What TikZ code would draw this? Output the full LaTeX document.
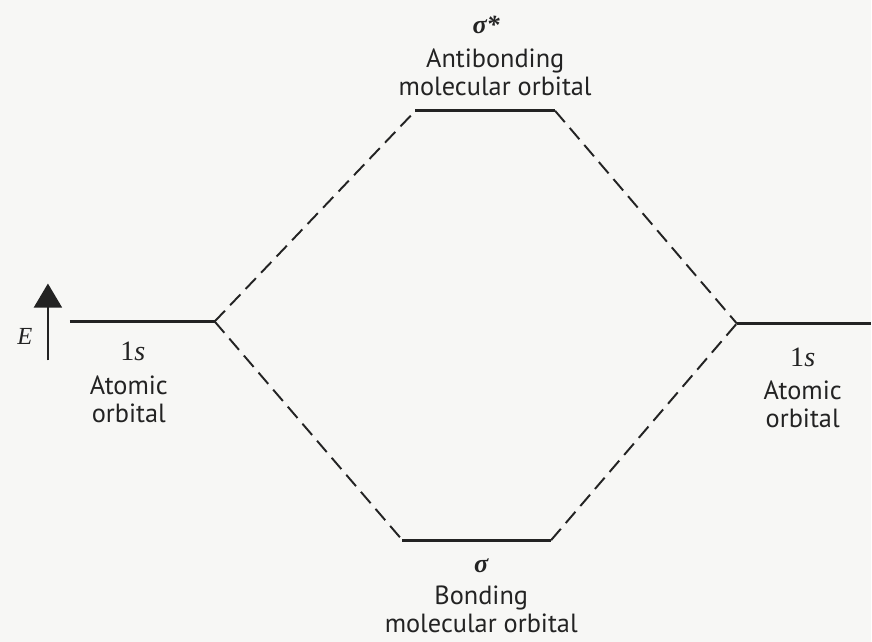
\documentclass[tikz,border=0pt]{standalone}
\usepackage{fontspec}
\setmainfont{PT Sans}
\newfontfamily\symfont{Liberation Serif}
\usetikzlibrary{arrows.meta}
\definecolor{paper}{RGB}{247,247,245}
\definecolor{ink}{RGB}{35,35,35}
\tikzset{
    orbline/.style = {draw=ink, line width=1.6pt},
    mixline/.style = {draw=ink, line width=1.1pt, dash pattern=on 8.5pt off 4.3pt},
    lbl/.style = {text=ink, align=center, inner sep=0pt,
        font=\fontsize{15}{16}\selectfont},
    sym/.style = {text=ink, inner sep=0pt, font=\fontsize{#1}{#1}\symfont\itshape},
    sym/.default = 15,
    boldsym/.style = {text=ink, inner sep=0pt, font=\fontsize{15}{15}\symfont\bfseries\itshape}
}
\begin{document}
\begin{tikzpicture}[x=0.02cm, y=-0.02cm]
            \fill [paper] (0,0) rectangle (872,643);
            \coordinate (aoL1) at (70,322);
            \coordinate (aoL2) at (215,322);
            \coordinate (aoR1) at (738,324);
            \coordinate (aoR2) at (872,324);
            \coordinate (anti1) at (416,111);
            \coordinate (anti2) at (556,111);
            \coordinate (bond1) at (403,541);
            \coordinate (bond2) at (552,541);
            \coordinate (Ebot) at (48,361);
            \coordinate (Etop) at (48,284);
            \draw [orbline] (aoL1) -- (aoL2);
            \draw [orbline] (aoR1) -- (aoR2);
            \draw [orbline] (anti1) -- (anti2);
            \draw [orbline] (bond1) -- (bond2);
            \draw [mixline] (aoL2) -- (anti1);
            \draw [mixline] (anti2) -- (aoR1);
            \draw [mixline] (aoL2) -- (bond1);
            \draw [mixline] (bond2) -- (aoR1);
            \draw [ink, line width=1.1pt, -{Triangle[length=0.48cm,width=0.56cm]}] (Ebot) -- (Etop);
            \node [sym=14] (E) at (25,337) {E};
            \node [boldsym] (antisym) at (487,25) {σ*};
            \node [lbl] (antilbl) at (496,72) {Antibonding\\molecular orbital};
            \node [boldsym] (bondsym) at (482,567) {σ};
            \node [lbl] (bondlbl) at (482,610) {Bonding\\molecular orbital};
            \node [sym=16] (aoLsym) at (133,352) {{\upshape 1}s};
            \node [lbl] (aoLlbl) at (129,400) {Atomic\\orbital};
            \node [sym=16] (aoRsym) at (804,358) {{\upshape 1}s};
            \node [lbl] (aoRlbl) at (804,405) {Atomic\\orbital};
\end{tikzpicture}
\end{document}
